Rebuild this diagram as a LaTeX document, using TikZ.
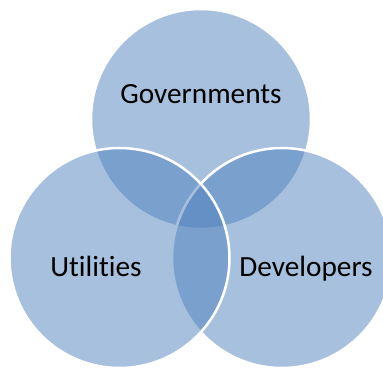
\documentclass[tikz,border=0pt]{standalone}
\usepackage{fontspec}
\setmainfont{Carlito}[Ligatures=NoCommon]
\definecolor{vennblue}{RGB}{79,129,189}
\begin{document}
\begin{tikzpicture}[x=1pt,y=1pt,
                    venn/.style={draw=white, line width=2.5pt, circle,
                      fill=vennblue, fill opacity=0.5, inner sep=0pt,
                      minimum size=220pt},
                    label/.style={anchor=base, inner sep=0pt,
                      font=\fontsize{29.3}{35}\selectfont}]
\useasboundingbox (0,0) rectangle (383,370);
\node[venn] (gov) at (201,251) {};
\node[venn] (dev) at (282,112) {};
\node[venn] (uti) at (119.5,112) {};

\node[label] (govtext) at (201,266) {Governments};
\node[label] (utitext) at (96,94) {Utilities};
\node[label] (devtext) at (306,94) {Developers};

\end{tikzpicture}
\end{document}
